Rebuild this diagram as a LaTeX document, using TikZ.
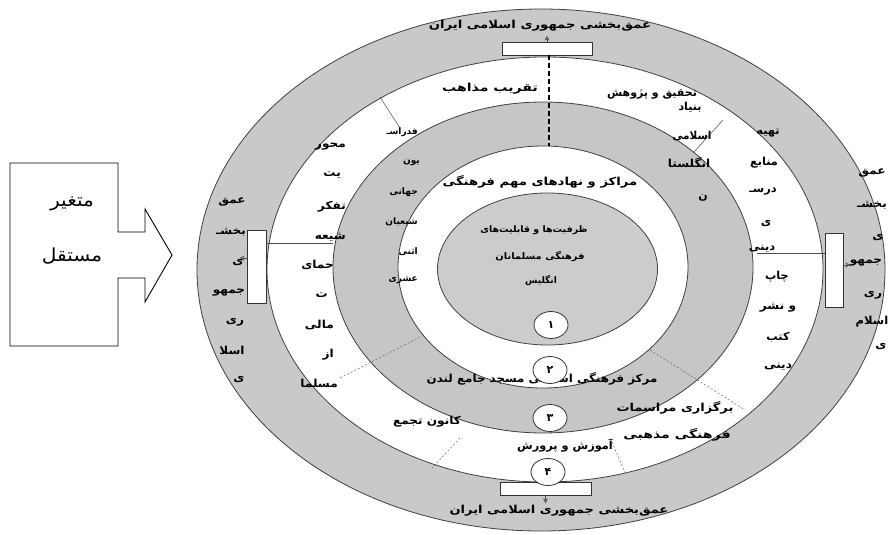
\documentclass[tikz,border=0pt]{standalone}
\usepackage{fontspec}
\usepackage{graphicx}
\newfontfamily\arfont[Script=Arabic]{DejaVu Sans}
\TeXXeTstate=1
\usetikzlibrary{arrows.meta,shapes.geometric}
\newcommand\hsx[2]{\scalebox{#1}[1]{#2}}
\begin{document}
\begin{tikzpicture}[x=1pt,y=-1pt,
  band/.style={draw=black!75, line width=0.8pt},
  lbl/.style={font=\fontsize{11}{13}\selectfont\arfont\bfseries, inner sep=0pt, text=black},
  lsm/.style={font=\fontsize{9}{11}\selectfont\arfont\bfseries, inner sep=0pt, text=black},
  big/.style={font=\fontsize{18}{20}\selectfont\arfont, inner sep=0pt},
  num/.style={ellipse, draw=black!80, fill=white, line width=0.8pt, minimum width=34pt, minimum height=27pt, inner sep=0pt, font=\fontsize{11}{13}\selectfont\arfont\bfseries},
  tag/.style={draw=black!80, fill=white, line width=0.8pt, inner sep=0pt},
  sep/.style={black!70, line width=0.5pt},
  dsep/.style={black!60, line width=0.5pt, dash pattern=on 2pt off 2pt},
  thickdash/.style={black, line width=1.2pt, dash pattern=on 5pt off 3pt},
  tip/.style={black!70, line width=0.6pt, -{Stealth[open,length=5pt,width=5pt]}}]
\useasboundingbox (0,0) rectangle (891,535);
\fill[white] (0,0) rectangle (891,535);

% independent variable arrow
\draw[black, line width=0.9pt] (10,163) -- (118,163) -- (118,232) -- (145,232) -- (145,209)
  -- (172,255) -- (145,302) -- (145,278) -- (118,278) -- (118,346) -- (10,346) -- cycle;
\node[big] (v1) at (72,204) {\hsx{1.12}{\beginR متغیر\endR}};
\node[big] (v2) at (72,256) {\hsx{1.12}{\beginR مستقل\endR}};

% concentric bands
\path[band, fill=gray!42] (541,270) ellipse [x radius=344pt, y radius=261pt];
\path[band, fill=white] (545,269.5) ellipse [x radius=278pt, y radius=212.5pt];
\path[band, fill=gray!45] (543,267.5) ellipse [x radius=210pt, y radius=165.5pt];
\path[band, fill=white] (543,267) ellipse [x radius=145pt, y radius=121pt];
\path[band, fill=gray!40] (547.5,269) ellipse [x radius=110pt, y radius=76pt];

% boxes on outer ring
\node[tag, minimum width=90pt, minimum height=13pt] (tb) at (547,48.5) {};
\node[tag, minimum width=91pt, minimum height=13pt] (bb) at (545.5,488.5) {};
\node[tag, minimum width=19pt, minimum height=73pt] (lb) at (256.5,266.5) {};
\node[tag, minimum width=18pt, minimum height=74pt] (rb) at (834,270) {};

\coordinate (e4top) at (549,146);
\draw[thickdash] (549,55) -- (e4top);
\draw[tip] (tb.north) -- ++(0,-6);
\draw[tip] (bb.south) -- ++(0,8);
\draw[tip] (lb.west |- 0,258) -- ++(-7,0);
\draw[tip] (rb.east |- 0,265) -- ++(7,0);

% separators
\coordinate (lse) at (333,243);
\coordinate (rsw) at (757,253);
\draw[sep] (lb.east |- lse) -- (lse);
\draw[sep] (rsw) -- (rb.west |- rsw);
\coordinate (d1a) at (380,97);   \coordinate (d1b) at (400,128);
\coordinate (d2a) at (723,120);  \coordinate (d2b) at (693,153);
\coordinate (d3a) at (340,378);  \coordinate (d3b) at (422,336);
\coordinate (d4a) at (650,350);  \coordinate (d4b) at (745,410);
\coordinate (d5a) at (460,438);  \coordinate (d5b) at (432,468);
\coordinate (d6a) at (612,442);  \coordinate (d6b) at (626,475);
\draw[sep] (d1a) -- (d1b);
\draw[sep] (d2a) -- (d2b);
\draw[dsep] (d3a) -- (d3b);
\draw[dsep] (d4a) -- (d4b);
\draw[dsep] (d5a) -- (d5b);
\draw[dsep] (d6a) -- (d6b);

% outer ring titles
\node[lbl] (ot) at (540,26) {\hsx{1.2}{\beginR عمق‌بخشی جمهوری اسلامی ایران\endR}};
\node[lbl] (ob) at (559,511) {\hsx{1.18}{\beginR عمق‌بخشی جمهوری اسلامی ایران\endR}};

% left outer column
\node[lbl] (l1) at (232,202) {\hsx{1.1}{\beginR عمق\endR}};
\node[lbl] (l2) at (231,232) {\hsx{1.1}{\beginR بخشـ\endR}};
\node[lbl] (l3) at (238,263) {\hsx{1.1}{\beginR ی\endR}};
\node[lbl] (l4) at (229,293) {\hsx{1.1}{\beginR جمهو\endR}};
\node[lbl] (l5) at (235,322) {\hsx{1.1}{\beginR ری\endR}};
\node[lbl] (l6) at (232,350) {\hsx{1.1}{\beginR اسلا\endR}};
\node[lbl] (l7) at (239,380) {\hsx{1.1}{\beginR ی\endR}};

% right outer column
\node[lbl] (r1) at (872,173) {\hsx{1.1}{\beginR عمق\endR}};
\node[lbl] (r2) at (872,205) {\hsx{1.1}{\beginR بخشـ\endR}};
\node[lbl] (r3) at (878,238) {\hsx{1.1}{\beginR ی\endR}};
\node[lbl] (r4) at (866,263) {\hsx{1.1}{\beginR جمهو\endR}};
\node[lbl] (r5) at (873,295) {\hsx{1.1}{\beginR ری\endR}};
\node[lbl] (r6) at (872,322) {\hsx{1.05}{\beginR اسلام\endR}};
\node[lbl] (r7) at (881,347) {\hsx{1.1}{\beginR ی\endR}};

% upper white band
\node[lbl] (w1) at (490,89) {\hsx{1.28}{\beginR تقریب مذاهب\endR}};
\node[lbl] (w2) at (652,94) {\hsx{1.0}{\beginR تحقیق و پژوهش\endR}};

% left white column
\node[lbl, anchor=east] (a1) at (346,147) {\hsx{1.1}{\beginR محور\endR}};
\node[lbl, anchor=east] (a2) at (341,175) {\hsx{1.1}{\beginR یت\endR}};
\node[lbl, anchor=east] (a3) at (346,207) {\hsx{1.1}{\beginR تفکر\endR}};
\node[lbl, anchor=east] (a4) at (346,237) {\hsx{1.1}{\beginR شیعه\endR}};
\node[lbl, anchor=east] (a5) at (334,265) {\hsx{1.1}{\beginR حمای\endR}};
\node[lbl, anchor=east] (a6) at (328,295) {\hsx{1.1}{\beginR ت\endR}};
\node[lbl, anchor=east] (a7) at (334,325) {\hsx{1.1}{\beginR مالی\endR}};
\node[lbl, anchor=east] (a8) at (334,355) {\hsx{1.1}{\beginR از\endR}};
\node[lbl, anchor=east] (a9) at (338,383) {\hsx{1.1}{\beginR مسلما\endR}};

% right white column
\node[lbl] (b1) at (768,133) {\hsx{1.03}{\beginR تهیه\endR}};
\node[lbl] (b2) at (764,163) {\hsx{1.03}{\beginR منابع\endR}};
\node[lbl] (b3) at (763,192) {\hsx{1.03}{\beginR درسـ\endR}};
\node[lbl] (b4) at (766,224) {\hsx{1.03}{\beginR ی\endR}};
\node[lbl] (b5) at (762,249) {\hsx{1.03}{\beginR دینی\endR}};
\node[lbl] (b6) at (777,277) {\hsx{1.03}{\beginR چاپ\endR}};
\node[lbl] (b7) at (778,308) {\hsx{1.1}{\beginR و نشر\endR}};
\node[lbl] (b8) at (778,337) {\hsx{1.03}{\beginR کتب\endR}};
\node[lbl] (b9) at (778,367) {\hsx{1.1}{\beginR دینی\endR}};

% middle gray band
\node[lsm, anchor=east] (m1) at (418,132) {\hsx{1.0}{\beginR فدراسـ\endR}};
\node[lsm, anchor=east] (m2) at (420,163) {\hsx{1.0}{\beginR یون\endR}};
\node[lsm, anchor=east] (m3) at (418,192) {\hsx{1.0}{\beginR جهانی\endR}};
\node[lsm, anchor=east] (m4) at (418,222) {\hsx{1.0}{\beginR شیعیان\endR}};
\node[lsm, anchor=east] (m5) at (418,252) {\hsx{1.0}{\beginR اثنی\endR}};
\node[lsm, anchor=east] (m6) at (418,280) {\hsx{1.0}{\beginR عشری\endR}};
\node[lbl] (n1) at (690,107) {\hsx{1.0}{\beginR بنیاد\endR}};
\node[lbl] (n2) at (692,136) {\hsx{0.95}{\beginR اسلامی\endR}};
\node[lbl] (n3) at (689,163) {\hsx{1.1}{\beginR انگلستا\endR}};
\node[lbl] (n4) at (703,198) {\hsx{1.0}{\beginR ن\endR}};

% inner white band and core
\node[lbl] (k1) at (540,182) {\hsx{1.2}{\beginR مراکز و نهادهای مهم فرهنگی\endR}};
\node[lsm] (k2) at (534,230) {\hsx{1.05}{\beginR ظرفیت‌ها و قابلیت‌های\endR}};
\node[lsm] (k3) at (540,257) {\hsx{1.1}{\beginR فرهنگی مسلمانان\endR}};
\node[lsm] (k4) at (541,281) {\hsx{1.0}{\beginR انگلیس\endR}};

% lower labels
\node[lbl] (p1) at (542,379) {\hsx{1.08}{\beginR مرکز فرهنگی اسلامی مسجد جامع لندن\endR}};
\node[lbl] (p2) at (427,422) {\hsx{1.1}{\beginR کانون تجمع\endR}};
\node[lbl] (p3) at (675,408) {\hsx{1.18}{\beginR برگزاری مراسمات\endR}};
\node[lbl] (p4) at (677,435) {\hsx{1.28}{\beginR فرهنگی مذهبی\endR}};
\node[lbl] (p5) at (565,446) {\hsx{1.03}{\beginR آموزش و پرورش\endR}};

% numbered circles
\node[num] (c1) at (551,325) {\beginR ۱\endR};
\node[num] (c2) at (550,370) {\beginR ۲\endR};
\node[num] (c3) at (550,418) {\beginR ۳\endR};
\node[num] (c4) at (548,472) {\beginR ۴\endR};
\end{tikzpicture}
\end{document}
